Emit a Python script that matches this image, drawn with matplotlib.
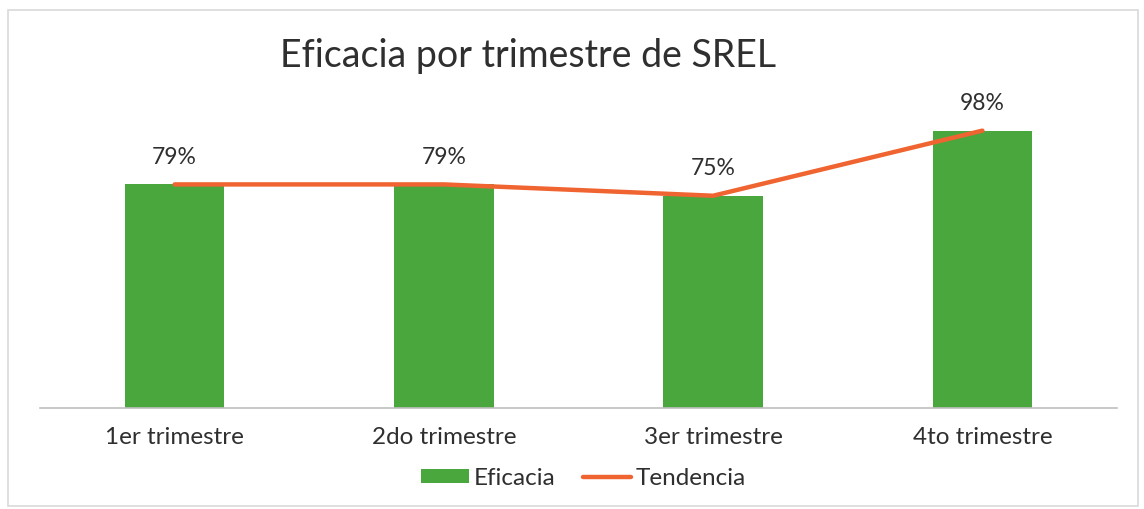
import matplotlib.pyplot as plt
from matplotlib.patches import Rectangle

plt.rcParams['font.family'] = ['Lato', 'DejaVu Sans']

# data
trimestres = ['1er trimestre', '2do trimestre', '3er trimestre', '4to trimestre']
eficacia = [79, 79, 75, 98]
tendencia = [79, 79, 75, 98]
etiquetas = ['79%', '79%', '75%', '98%']

verde = '#4aa73e'
naranja = '#ef6430'
texto = '#2f2f2f'

fig = plt.figure(figsize=(11.44, 5.09), dpi=100)
fig.patch.set_facecolor('white')

# light frame around the chart
fig.patches.append(Rectangle((0.007, 0.005), 0.988, 0.975, transform=fig.transFigure,
                             fill=False, edgecolor='#d9d9d9', linewidth=1.2))

ax = fig.add_axes([0.035, 0.1984, 0.9414, 0.605])
x = range(len(trimestres))
barras = ax.bar(x, eficacia, width=0.37, color=verde, label='Eficacia', zorder=2)
linea, = ax.plot(x, tendencia, color=naranja, linewidth=3.2, label='Tendencia', zorder=3,
                 solid_capstyle='round')

for i, (v, t) in enumerate(zip(eficacia, etiquetas)):
    ax.annotate(t, (i, v), xytext=(0, 19.5), textcoords='offset points',
                ha='center', va='center', fontsize=16.5, color=texto)

ax.set_xlim(-0.5, 3.5)
ax.set_ylim(0, 108.8)
ax.set_xticks(list(x))
ax.set_xticklabels(trimestres, fontsize=17.5, color=texto)
ax.tick_params(axis='x', length=0, pad=14)
ax.set_yticks([])
for s in ['top', 'right', 'left']:
    ax.spines[s].set_visible(False)
ax.spines['bottom'].set_color('#bfbfbf')
ax.spines['bottom'].set_linewidth(1.2)

fig.text(0.462, 0.89, 'Eficacia por trimestre de SREL', ha='center', va='center',
         fontsize=27, color=texto)

fig.legend([barras, linea], ['Eficacia', 'Tendencia'], loc='center',
           bbox_to_anchor=(0.51, 0.06), ncol=2, frameon=False,
           fontsize=17.5, handlelength=2.0, handleheight=0.5, handletextpad=0.2,
           columnspacing=1.1, labelcolor=texto)

fig.savefig('out.png', dpi=100, facecolor='white')
